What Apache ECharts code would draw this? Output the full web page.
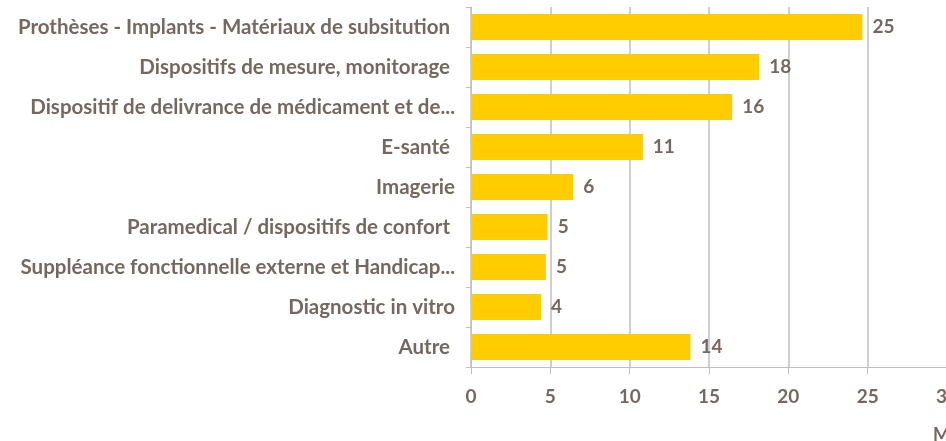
<!DOCTYPE html>
<html>
<head>
<meta charset="utf-8">
<script src="https://cdn.jsdelivr.net/npm/echarts@6/dist/echarts.min.js"></script>
<style>
  html, body { margin: 0; padding: 0; background: #fff; }
  #chart { width: 946px; height: 441px; }
</style>
</head>
<body>
<div id="chart"></div>
<script>
// categories top to bottom
var categories = [
  'Prothèses - Implants - Matériaux de subsitution ',
  'Dispositifs de mesure, monitorage ',
  'Dispositif de delivrance de médicament et de...',
  'E-santé ',
  'Imagerie',
  'Paramedical / dispositifs de confort ',
  'Suppléance fonctionnelle externe et Handicap...',
  'Diagnostic in vitro',
  'Autre '
]
// bar lengths
var values = [24.67, 18.16, 16.46, 10.83, 6.44, 4.83, 4.72, 4.41, 13.83]
// labels shown next to the bars
var valueLabels = ['25', '18', '16', '11', '6', '5', '5', '4', '14']
var xTicks = [0, 5, 10, 15, 20, 25, 30]

var textColor = '#76685e'
var fontFamily = 'Lato'

var chart = echarts.init(document.getElementById('chart'))
var option = {
  animation: false,
  title: {
    text: 'Moyenne',
    left: 928,
    top: 421,
    textStyle: { color: textColor, fontFamily: fontFamily, fontWeight: 'bold', fontSize: 18 }
  },
  grid: {
    left: 471,
    top: 7,
    width: 476,
    height: 360,
    outerBoundsMode: 'none'
  },
  xAxis: {
    type: 'value',
    min: xTicks[0],
    max: xTicks[xTicks.length - 1],
    interval: 5,
    axisLine: { show: true, lineStyle: { color: '#bfbfbf', width: 1 } },
    axisTick: { show: true, length: 7, lineStyle: { color: '#bfbfbf' } },
    splitLine: { show: true, lineStyle: { color: '#bfbfbf', width: 1.5 } },
    axisLabel: {
      color: textColor,
      fontFamily: fontFamily,
      fontWeight: 'bold',
      fontSize: 19,
      margin: 20
    }
  },
  yAxis: {
    type: 'category',
    inverse: true,
    data: categories,
    axisLine: { show: true, lineStyle: { color: '#bfbfbf' } },
    axisTick: { show: true, length: 5, lineStyle: { color: '#bfbfbf' } },
    axisLabel: {
      color: textColor,
      fontFamily: fontFamily,
      fontWeight: 'bold',
      fontSize: 20.5,
      margin: 16
    }
  },
  series: [
    {
      type: 'bar',
      data: values,
      barWidth: 26,
      itemStyle: { color: '#ffcc00' },
      label: {
        show: true,
        position: 'right',
        distance: 10,
        color: textColor,
        fontFamily: fontFamily,
        fontWeight: 'bold',
        fontSize: 19,
        formatter: function (p) {
          return valueLabels[p.dataIndex]
        }
      }
    }
  ]
}
chart.setOption(option)
window.addEventListener('resize', () => {
  chart.resize()
})
</script>
</body>
</html>
